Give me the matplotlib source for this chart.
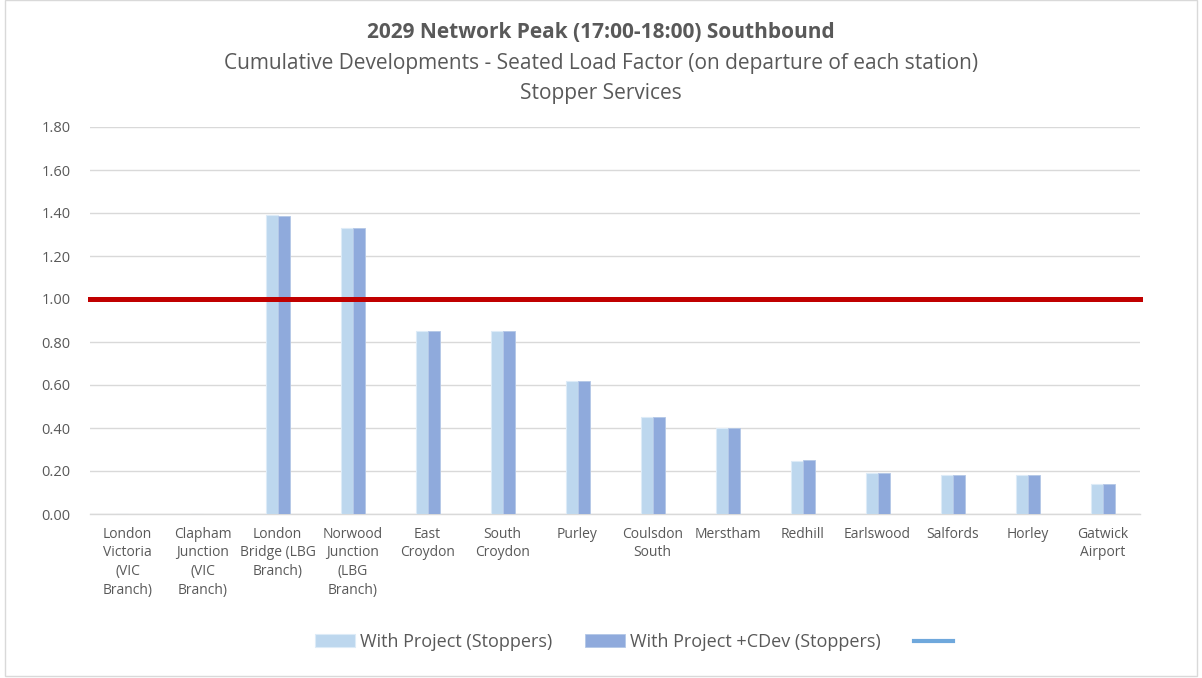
import numpy as np
import matplotlib
matplotlib.use("Agg")
import matplotlib.pyplot as plt
from matplotlib.patches import Rectangle
from matplotlib.lines import Line2D

# Station order, southbound
stations = ["London\nVictoria\n(VIC\nBranch)", "Clapham\nJunction\n(VIC\nBranch)",
            "London\nBridge (LBG\nBranch)", "Norwood\nJunction\n(LBG\nBranch)",
            "East\nCroydon", "South\nCroydon", "Purley", "Coulsdon\nSouth",
            "Merstham", "Redhill", "Earlswood", "Salfords", "Horley", "Gatwick\nAirport"]

with_project = [0, 0, 1.39, 1.33, 0.85, 0.85, 0.62, 0.45, 0.40, 0.245, 0.19, 0.18, 0.18, 0.14]
with_cdev = [0, 0, 1.385, 1.33, 0.85, 0.85, 0.62, 0.45, 0.40, 0.25, 0.19, 0.18, 0.18, 0.14]
threshold = 1.0

plt.rcParams['font.family'] = ['Open Sans', 'DejaVu Sans']
grey = "#595959"

fig = plt.figure(figsize=(12.02, 6.78), dpi=100)
ax = fig.add_axes([90/1202, 1 - 514/678, 1050/1202, 387/678])

x = np.arange(len(stations))
w = 0.16
ax.bar(x - w/2, with_project, w, color="#BDD7EE", edgecolor="#DDEBF7", linewidth=0.8,
       label="With Project (Stoppers)", zorder=3)
ax.bar(x + w/2, with_cdev, w, color="#8FAADC", edgecolor="#B4C7E7", linewidth=0.6,
       label="With Project +CDev (Stoppers)", zorder=3)
ax.axhline(threshold, color="#C00000", linewidth=3.6, zorder=4, clip_on=False)

ax.set_xlim(-0.5, len(stations) - 0.5)
ax.set_ylim(0, 1.8)
ax.set_yticks(np.arange(0, 1.81, 0.2))
ax.set_yticklabels([f"{v:.2f}" for v in np.arange(0, 1.81, 0.2)])
ax.set_xticks(x)
ax.set_xticklabels(stations, fontsize=10, color=grey, linespacing=1.35)
ax.tick_params(axis="y", labelsize=10.5, labelcolor=grey, length=0, pad=14)
ax.tick_params(axis="x", length=0, pad=9)
ax.grid(axis="y", color="#D9D9D9", linewidth=1, zorder=0)
for side in ["top", "right", "left"]:
    ax.spines[side].set_visible(False)
ax.spines["bottom"].set_color("#D9D9D9")
ax.spines["bottom"].set_linewidth(1)

fig.text(0.5, 1 - 33/678, "2029 Network Peak (17:00-18:00) Southbound", ha="center", va="center",
         fontsize=15, fontweight="bold", color=grey)
fig.text(0.5, 1 - 63/678, "Cumulative Developments - Seated Load Factor (on departure of each station)",
         ha="center", va="center", fontsize=15, color=grey)
fig.text(0.5, 1 - 93/678, "Stopper Services", ha="center", va="center", fontsize=15, color=grey)

handles, labels = ax.get_legend_handles_labels()
handles.append(Line2D([0], [0], color="#6FA8DC", linewidth=3))
labels.append("")
fig.legend(handles, labels, loc="center", bbox_to_anchor=(0.53, 1 - 642/678), ncol=3,
           frameon=False, fontsize=13, labelcolor=grey, handlelength=2.2, columnspacing=1.8,
           handletextpad=0.3)

fig.add_artist(Rectangle((5/1202, 2/678), 1192/1202, 676/678, transform=fig.transFigure,
                         fill=False, edgecolor="#D9D9D9", linewidth=1))

fig.savefig("out.png", dpi=100, facecolor="white")
